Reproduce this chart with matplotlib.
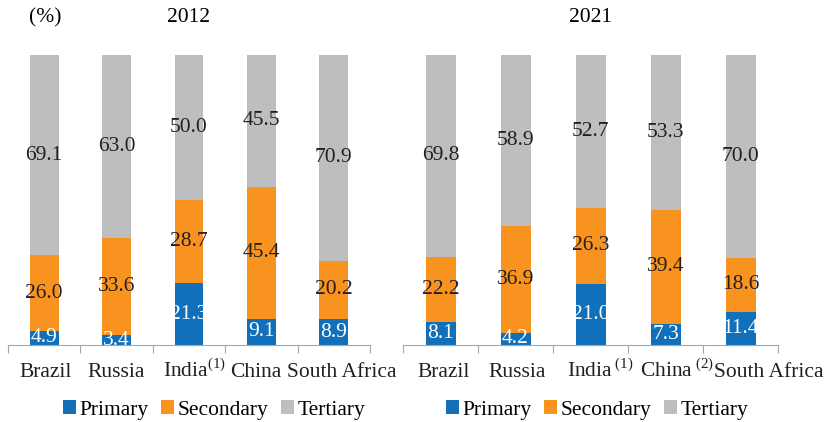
import matplotlib.pyplot as plt
import matplotlib.transforms as mtransforms
import numpy as np

labels_2012 = ["Brazil", "Russia", "India$^{\\rm (1)}$", "China", "South Africa"]
labels_2021 = ["Brazil", "Russia", "India$\\,^{\\rm (1)}$", "China$\\,^{\\rm (2)}$", "South Africa"]

primary_2012 = [4.9, 3.4, 21.3, 9.1, 8.9]
secondary_2012 = [26.0, 33.6, 28.7, 45.4, 20.2]
tertiary_2012 = [69.1, 63.0, 50.0, 45.5, 70.9]

primary_2021 = [8.1, 4.2, 21.0, 7.3, 11.4]
secondary_2021 = [22.2, 36.9, 26.3, 39.4, 18.6]
tertiary_2021 = [69.8, 58.9, 52.7, 53.3, 70.0]

plt.rcParams['font.family'] = 'Liberation Serif'
plt.rcParams['mathtext.fontset'] = 'custom'
plt.rcParams['mathtext.rm'] = 'Liberation Serif'

c_pri = '#1170b9'
c_sec = '#f7931e'
c_ter = '#bcbec0'
txt = '#231f20'
fs = 15.5

fig = plt.figure(figsize=(8.27, 4.22), dpi=100)
ax1 = fig.add_axes([8/827, 1-345/422, 362/827, 290/422])
ax2 = fig.add_axes([403/827, 1-345/422, 375/827, 290/422])

def panel(ax, labels, pri, sec, ter, shifts, legx):
    x = np.arange(len(labels))
    w = 0.4
    ax.bar(x, pri, w, color=c_pri, label='Primary')
    ax.bar(x, sec, w, bottom=pri, color=c_sec, label='Secondary')
    b2 = np.array(pri) + np.array(sec)
    ax.bar(x, ter, w, bottom=b2, color=c_ter, label='Tertiary')
    for i in range(len(x)):
        ax.text(x[i], pri[i] / 2, f"{pri[i]:.1f}", ha='center', va='center',
                color='white', fontsize=fs)
        ax.text(x[i], pri[i] + sec[i] / 2, f"{sec[i]:.1f}", ha='center', va='center',
                color=txt, fontsize=fs)
        ax.text(x[i], b2[i] + ter[i] / 2, f"{ter[i]:.1f}", ha='center', va='center',
                color=txt, fontsize=fs)
    ax.set_xlim(-0.5, len(x) - 0.5)
    ax.set_ylim(0, 100)
    for s in ['top', 'right', 'left']:
        ax.spines[s].set_visible(False)
    ax.spines['bottom'].set_color('#a6a6a6')
    ax.set_yticks([])
    ax.set_xticks(np.arange(-0.5, len(x)))
    ax.set_xticklabels([])
    ax.tick_params(axis='x', length=6, color='#a6a6a6', direction='out')
    for i, lab in enumerate(labels):
        tr = ax.get_xaxis_transform() + mtransforms.ScaledTranslation(shifts[i] / 100, 0, fig.dpi_scale_trans)
        ax.text(x[i], -32/290, lab, transform=tr, ha='center', va='baseline',
                fontsize=fs, color=txt)
    fig.legend(handles=ax.containers, labels=['Primary', 'Secondary', 'Tertiary'],
               loc='center', bbox_to_anchor=(legx / 827, 1 - 410/422), ncol=3, frameon=False,
               prop={'family': 'Liberation Serif', 'size': fs},
               handlelength=0.6, handleheight=0.6, handletextpad=0.15,
               columnspacing=0.6, borderpad=0)

panel(ax1, labels_2012, primary_2012, secondary_2012, tertiary_2012,
      [1, 0, 6, -6, 8], 214)
panel(ax2, labels_2021, primary_2021, secondary_2021, tertiary_2021,
      [3, 2, 10, 11, 28], 597)

fig.text(45/827, 1-18/422, "(%)", ha='center', va='center', fontsize=fs)
fig.text(188/827, 1-18/422, "2012", ha='center', va='center', fontsize=fs)
fig.text(590/827, 1-18/422, "2021", ha='center', va='center', fontsize=fs)

fig.savefig('out.png', dpi=100)
